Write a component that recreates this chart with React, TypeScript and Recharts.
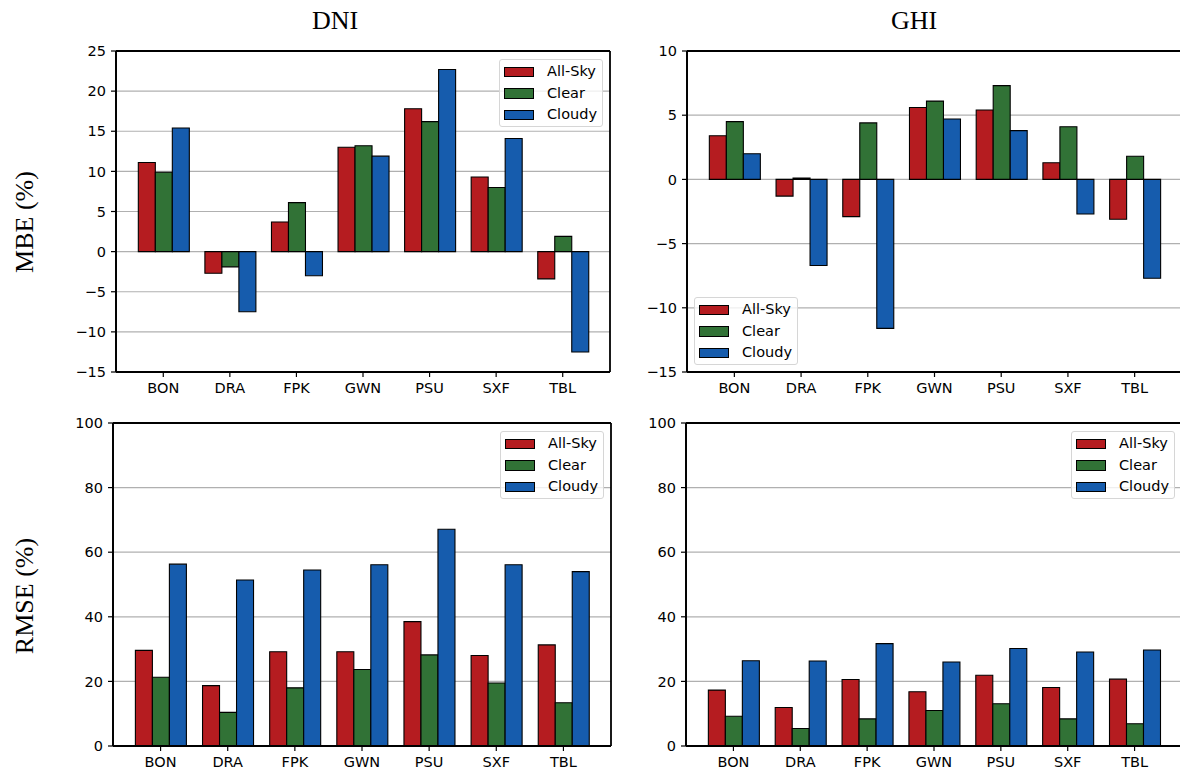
import { BarChart, Bar, XAxis, YAxis, CartesianGrid } from 'recharts'

const stations = ['BON', 'DRA', 'FPK', 'GWN', 'PSU', 'SXF', 'TBL']
const seriesNames = ['All-Sky', 'Clear', 'Cloudy']
const seriesKeys = ['allSky', 'clear', 'cloudy']
const seriesColors = ['#b51c20', '#317236', '#165cad']

// MBE (%)
const dniMbeAllSky = [11.1, -2.7, 3.7, 13.0, 17.8, 9.3, -3.4]
const dniMbeClear = [9.9, -1.9, 6.1, 13.2, 16.2, 8.0, 1.9]
const dniMbeCloudy = [15.4, -7.5, -3.0, 11.9, 22.7, 14.1, -12.5]

const ghiMbeAllSky = [3.4, -1.3, -2.9, 5.6, 5.4, 1.3, -3.1]
const ghiMbeClear = [4.5, 0.1, 4.4, 6.1, 7.3, 4.1, 1.8]
const ghiMbeCloudy = [2.0, -6.7, -11.6, 4.7, 3.8, -2.7, -7.7]

// RMSE (%)
const dniRmseAllSky = [29.6, 18.7, 29.2, 29.2, 38.5, 28.0, 31.3]
const dniRmseClear = [21.3, 10.4, 18.0, 23.7, 28.2, 19.5, 13.4]
const dniRmseCloudy = [56.3, 51.4, 54.5, 56.1, 67.1, 56.1, 54.0]

const ghiRmseAllSky = [17.3, 11.9, 20.6, 16.8, 21.9, 18.1, 20.7]
const ghiRmseClear = [9.2, 5.4, 8.4, 11.0, 13.1, 8.4, 6.9]
const ghiRmseCloudy = [26.4, 26.3, 31.7, 26.0, 30.2, 29.1, 29.7]

const dniMbeTicks = [-15, -10, -5, 0, 5, 10, 15, 20, 25]
const ghiMbeTicks = [-15, -10, -5, 0, 5, 10]
const rmseTicks = [0, 20, 40, 60, 80, 100]

const tickFont = { fontFamily: 'DejaVu Sans', fontSize: 14.5, fill: '#000' }
const serif = 'Liberation Serif'

function toRows(a: number[], b: number[], c: number[]) {
  return stations.map((station, i) => ({ station, allSky: a[i], clear: b[i], cloudy: c[i] }))
}

type Rect = { left: number; top: number; right: number; bottom: number }

// the axes box: lines on the edges of the plot area
const frameX = ({ offset }: any) => [offset.left, offset.left + offset.width]
const frameY = ({ offset }: any) => [offset.top, offset.top + offset.height]

function Legend({ left, top }: { left: number; top: number }) {
  return (
    <div
      style={{
        position: 'absolute',
        left,
        top,
        width: 104,
        height: 68,
        boxSizing: 'border-box',
        border: '1px solid #d6d6d6',
        borderRadius: 3,
        background: 'rgba(255,255,255,0.8)',
        fontFamily: 'DejaVu Sans',
        fontSize: 14.5,
      }}
    >
      {seriesNames.map((name, i) => (
        <div key={name} style={{ position: 'absolute', left: 0, top: 2 + i * 21.5, height: 20, width: '100%' }}>
          <div
            style={{
              position: 'absolute',
              left: 4,
              top: 4.5,
              width: 30,
              height: 10.5,
              boxSizing: 'border-box',
              background: seriesColors[i],
              border: '1.2px solid #000',
            }}
          />
          <span style={{ position: 'absolute', left: 47, top: 0, lineHeight: '19px' }}>{name}</span>
        </div>
      ))}
    </div>
  )
}

function Panel({
  rows,
  ticks,
  plot,
  legend,
}: {
  rows: any[]
  ticks: number[]
  plot: Rect
  legend: 'upper right' | 'lower left'
}) {
  const yW = 60
  const mt = 10
  const mr = 10
  const xH = 30
  const mb = 4
  const W = plot.right - plot.left
  const H = plot.bottom - plot.top
  const width = yW + W + mr
  const height = mt + H + xH + mb
  const pad = Math.round((W * (1 - 7 / 7.425)) / 2)
  const domain = [ticks[0], ticks[ticks.length - 1]]
  const spine = { stroke: '#000', strokeWidth: 1.8 }

  const legendLeft = legend === 'upper right' ? yW + W - 7 - 104 : yW + 7
  const legendTop = legend === 'upper right' ? mt + 8 : mt + H - 7 - 68

  return (
    <div style={{ position: 'absolute', left: plot.left - yW, top: plot.top - mt, width, height }}>
      <BarChart
        width={width}
        height={height}
        data={rows}
        margin={{ top: mt, right: mr, bottom: mb, left: 0 }}
        barCategoryGap="12.5%"
        barGap={0}
      >
        <XAxis
          dataKey="station"
          interval={0}
          height={xH}
          padding={{ left: pad, right: pad }}
          tick={tickFont}
          tickSize={5}
          tickMargin={6}
          axisLine={spine}
          tickLine={{ stroke: '#000', strokeWidth: 1.2 }}
        />
        <YAxis
          type="number"
          domain={domain}
          ticks={ticks}
          width={yW}
          interval={0}
          allowDataOverflow
          tick={tickFont}
          tickSize={5}
          tickMargin={5}
          axisLine={spine}
          tickLine={{ stroke: '#000', strokeWidth: 1.2 }}
          tickFormatter={(v: number) => String(v).replace('-', '\u2212')}
        />
        {seriesKeys.map((key, i) => (
          <Bar key={key} dataKey={key} fill={seriesColors[i]} stroke="#000" strokeWidth={1.1} isAnimationActive={false} />
        ))}
        <CartesianGrid vertical={false} stroke="#b0b0b0" strokeWidth={1.2} />
        <CartesianGrid
          stroke="#000"
          strokeWidth={1.8}
          verticalCoordinatesGenerator={frameX}
          horizontalCoordinatesGenerator={frameY}
        />
      </BarChart>
      <Legend left={legendLeft} top={legendTop} />
    </div>
  )
}

export default function App() {
  return (
    <div
      style={{
        position: 'absolute',
        left: 0,
        top: 0,
        width: 1180,
        height: 771,
        overflow: 'hidden',
        background: '#fff',
      }}
    >
      <Panel
        rows={toRows(dniMbeAllSky, dniMbeClear, dniMbeCloudy)}
        ticks={dniMbeTicks}
        plot={{ left: 116, top: 51, right: 610, bottom: 372 }}
        legend="upper right"
      />
      <Panel
        rows={toRows(ghiMbeAllSky, ghiMbeClear, ghiMbeCloudy)}
        ticks={ghiMbeTicks}
        plot={{ left: 687, top: 51, right: 1182, bottom: 372 }}
        legend="lower left"
      />
      <Panel
        rows={toRows(dniRmseAllSky, dniRmseClear, dniRmseCloudy)}
        ticks={rmseTicks}
        plot={{ left: 113, top: 423, right: 611, bottom: 746 }}
        legend="upper right"
      />
      <Panel
        rows={toRows(ghiRmseAllSky, ghiRmseClear, ghiRmseCloudy)}
        ticks={rmseTicks}
        plot={{ left: 686, top: 423, right: 1182, bottom: 746 }}
        legend="upper right"
      />
      <svg
        width={1180}
        height={771}
        style={{ position: 'absolute', left: 0, top: 0, pointerEvents: 'none' }}
      >
        <text x={335} y={29} textAnchor="middle" fontFamily={serif} fontSize={26} fill="#000">
          DNI
        </text>
        <text x={914} y={29} textAnchor="middle" fontFamily={serif} fontSize={26} fill="#000">
          GHI
        </text>
        <text
          x={32.5}
          y={222}
          textAnchor="middle"
          fontFamily={serif}
          fontSize={26}
          fill="#000"
          transform="rotate(-90 32.5 222)"
        >
          MBE (%)
        </text>
        <text
          x={33}
          y={596}
          textAnchor="middle"
          fontFamily={serif}
          fontSize={26}
          fill="#000"
          transform="rotate(-90 33 596)"
        >
          RMSE (%)
        </text>
      </svg>
    </div>
  )
}
